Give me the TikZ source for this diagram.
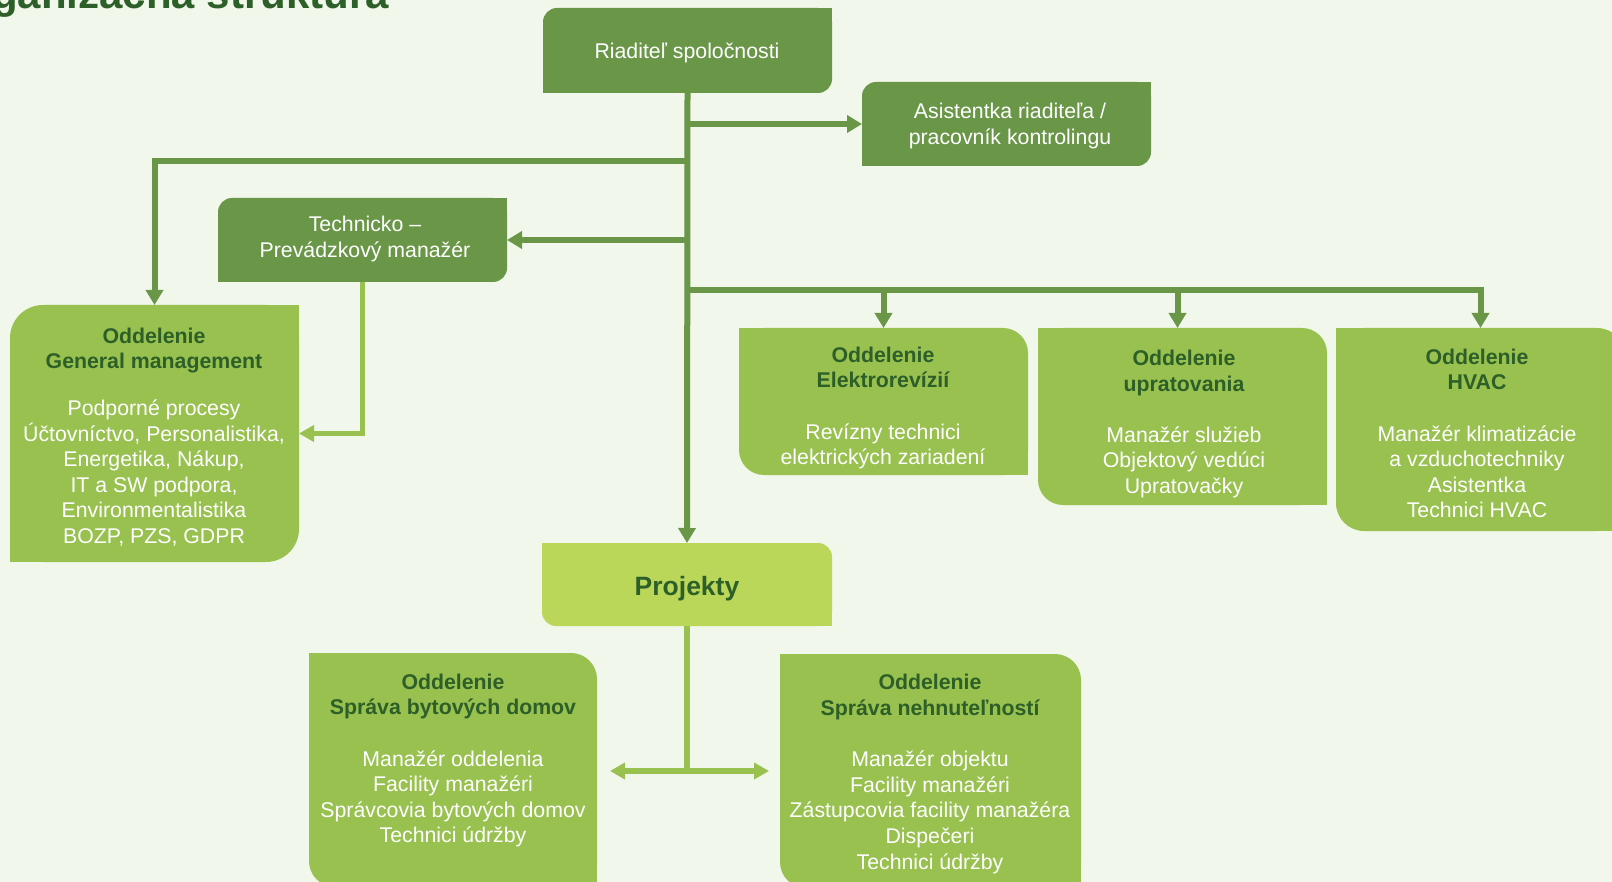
\documentclass[tikz,border=0pt]{standalone}
\usepackage{fontspec}
\setmainfont{Liberation Sans}
\usetikzlibrary{arrows.meta}
\definecolor{bgc}{HTML}{F1F7EA}
\definecolor{darkg}{HTML}{6A9648}
\definecolor{midg}{HTML}{98C150}
\definecolor{lightg}{HTML}{BBD75A}
\definecolor{txtg}{HTML}{2D5F28}
\pgfdeclarelayer{bg}
\pgfdeclarelayer{boxes}
\pgfsetlayers{bg,boxes,main}
% TL and BR rounded
\newcommand\shapeA[3]{%
 \begin{pgfonlayer}{boxes}
 \fill[#2, rounded corners=#3] (#1.south west) rectangle (#1.north east);
 \fill[#2] (#1.north east) rectangle ([xshift=-#3, yshift=-#3]#1.north east);
 \fill[#2] (#1.south west) rectangle ([xshift=#3, yshift=#3]#1.south west);
 \end{pgfonlayer}}
% TR and BL rounded
\newcommand\shapeB[3]{%
 \begin{pgfonlayer}{boxes}
 \fill[#2, rounded corners=#3] (#1.south west) rectangle (#1.north east);
 \fill[#2] (#1.north west) rectangle ([xshift=#3, yshift=-#3]#1.north west);
 \fill[#2] (#1.south east) rectangle ([xshift=-#3, yshift=#3]#1.south east);
 \end{pgfonlayer}}
\newcommand\hd[1]{{\color{txtg}\bfseries #1}}
\tikzset{
  boxn/.style={rectangle, inner sep=0pt, outer sep=0pt},
  txt/.style={align=center, font=\fontsize{21.3}{25.6}\selectfont, text=white, inner sep=0pt},
  darkl/.style={draw=darkg, line width=6pt},
  lightl/.style={draw=midg, line width=6pt},
  dtip/.style={-{Triangle[width=17pt,length=15pt]}},
  ltip/.style={-{Triangle[width=16pt,length=15pt]}},
}
\begin{document}
\begin{tikzpicture}[x=1pt,y=-1pt]
\useasboundingbox (0,0) rectangle (1612,882);
\clip (0,0) rectangle (1612,882);
\begin{pgfonlayer}{bg}
\fill[bgc] (0,0) rectangle (1612,882);
\end{pgfonlayer}

\node[anchor=base east, font=\fontsize{42}{50}\selectfont\bfseries, text=txtg, inner sep=0pt] (title) at (389,9) {Organizačná štruktúra};

% boxes
\node[boxn, minimum width=289pt, minimum height=85pt] (riad) at (687.5,50.5) {};
\shapeA{riad}{darkg}{14pt}
\node[txt] (riad-t) at (687,53) {Riaditeľ spoločnosti};

\node[boxn, minimum width=289pt, minimum height=84pt] (asist) at (1006.5,124) {};
\shapeA{asist}{darkg}{14pt}
\node[txt] (asist-t) at (1010,126) {Asistentka riaditeľa /\\pracovník kontrolingu};

\node[boxn, minimum width=289pt, minimum height=84pt] (tech) at (362.5,240) {};
\shapeA{tech}{darkg}{14pt}
\node[txt] (tech-t) at (365,239) {Technicko –\\Prevádzkový manažér};

\node[boxn, minimum width=289pt, minimum height=257pt] (gm) at (154.5,433.5) {};
\shapeA{gm}{midg}{33pt}
\node[txt] (gm-t) at (154,437) {\hd{Oddelenie}\\\hd{General management}\\[21pt]Podporné procesy\\Účtovníctvo, Personalistika,\\Energetika, Nákup,\\IT a SW podpora,\\Environmentalistika\\BOZP, PZS, GDPR};

\node[boxn, minimum width=289pt, minimum height=147pt] (elek) at (883.5,401.5) {};
\shapeB{elek}{midg}{25pt}
\node[txt] (elek-t) at (883,408) {\hd{Oddelenie}\\\hd{Elektrorevízií}\\[25.6pt]Revízny technici\\elektrických zariadení};

\node[boxn, minimum width=289pt, minimum height=177pt] (uprat) at (1182.5,416.5) {};
\shapeB{uprat}{midg}{25pt}
\node[txt] (uprat-t) at (1184,424) {\hd{Oddelenie}\\\hd{upratovania}\\[25.6pt]Manažér služieb\\Objektový vedúci\\Upratovačky};

\node[boxn, minimum width=289pt, minimum height=203pt] (hvac) at (1480.5,429.5) {};
\shapeB{hvac}{midg}{28pt}
\node[txt] (hvac-t) at (1477,433.5) {\hd{Oddelenie}\\\hd{HVAC}\\[25.6pt]Manažér klimatizácie\\a vzduchotechniky\\Asistentka\\Technici HVAC};

\node[boxn, minimum width=290pt, minimum height=83pt] (proj) at (687,584.5) {};
\shapeB{proj}{lightg}{14pt}
\node[inner sep=0pt, font=\fontsize{26.5}{30}\selectfont\bfseries, text=txtg] (proj-t) at (687,589) {Projekty};

\node[boxn, minimum width=288pt, minimum height=234pt] (sbd) at (453,770) {};
\shapeB{sbd}{midg}{26pt}
\node[txt] (sbd-t) at (453,760.5) {\hd{Oddelenie}\\\hd{Správa bytových domov}\\[25.6pt]Manažér oddelenia\\Facility manažéri\\Správcovia bytových domov\\Technici údržby};

\node[boxn, minimum width=301pt, minimum height=234pt] (sns) at (930.5,771) {};
\shapeB{sns}{midg}{26pt}
\node[txt] (sns-t) at (930,774) {\hd{Oddelenie}\\\hd{Správa nehnuteľností}\\[25.6pt]Manažér objektu\\Facility manažéri\\Zástupcovia facility manažéra\\Dispečeri\\Technici údržby};

% junctions
\coordinate (j1) at (687,161);
\coordinate (j2) at (687,290);
\coordinate (j3) at (687,771);
\coordinate (pl) at (610,771);
\coordinate (pr) at (769,771);

% connectors
\draw[darkl, dtip] (riad.south) -- (proj.north);
\draw[darkl, dtip] (riad.south |- asist.west) -- (asist.west);
\draw[darkl, dtip] (riad.south |- tech.east) -- (tech.east);
\draw[darkl, dtip] (j1) -| (gm.north);
\draw[darkl, dtip] (j2) -| (elek.north);
\draw[darkl, dtip] (j2) -| ([xshift=-5pt]uprat.north);
\draw[darkl, dtip] (j2) -| (hvac.north);
\draw[draw=midg, line width=4.5pt, ltip] (tech.south) |- (gm.east);
\draw[lightl] (proj.south) -- ([yshift=-3pt]j3);
\draw[lightl, ltip] (j3) -- (pl);
\draw[lightl, ltip] (j3) -- (pr);
\end{tikzpicture}
\end{document}
